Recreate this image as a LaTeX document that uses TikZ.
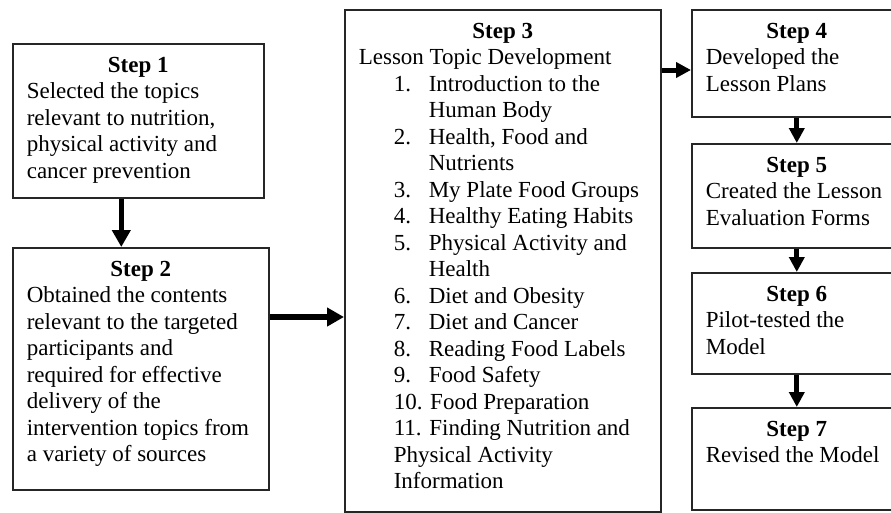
\documentclass[tikz,border=0pt]{standalone}
\usepackage{fontspec}
\setmainfont{Liberation Serif}
\usetikzlibrary{arrows.meta}

\newcommand{\steptxt}[4]{\parbox[t][#2][t]{#1}{\centering\textbf{#3}\par\raggedright #4}}
\newcommand{\topicno}[1]{\hspace*{35pt}\makebox[35pt][l]{#1}}

\begin{document}
\begin{tikzpicture}[x=1pt,y=-1pt, font=\fontsize{23}{26.5}\selectfont,
    stepbox/.style={draw=black!85, line width=1.6pt, anchor=north west, inner xsep=14pt, inner ysep=13pt},
    flow/.style={draw=black, line width=5.5pt, -{Triangle[length=17pt,width=18pt]}},
    flowsmall/.style={draw=black, line width=5pt, -{Triangle[length=15pt,width=15pt]}}]
  \useasboundingbox (0,0) rectangle (891,512);
  \fill[white] (0,0) rectangle (891,512);

  % left column
  \node[stepbox] (s1) at (12,43) {\steptxt{223pt}{128pt}{Step 1}{Selected the topics\\ relevant to nutrition,\\ physical activity and\\ cancer prevention}};
  \node[stepbox] (s2) at (12,247) {\steptxt{228pt}{216pt}{Step 2}{Obtained the contents\\ relevant to the targeted\\ participants and\\ required for effective\\ delivery of the\\ intervention topics from\\ a variety of sources}};

  % topics
  \node[stepbox] (s3) at (344,9) {\steptxt{288pt}{476pt}{Step 3}{Lesson Topic Development\\
      \topicno{1.}Introduction to the\\ \hspace*{70pt}Human Body\\
      \topicno{2.}Health, Food and\\ \hspace*{70pt}Nutrients\\
      \topicno{3.}My Plate Food Groups\\
      \topicno{4.}Healthy Eating Habits\\
      \topicno{5.}Physical Activity and\\ \hspace*{70pt}Health\\
      \topicno{6.}Diet and Obesity\\
      \topicno{7.}Diet and Cancer\\
      \topicno{8.}Reading Food Labels\\
      \topicno{9.}Food Safety\\
      \hspace*{35pt}10. Food Preparation\\
      \hspace*{35pt}11. Finding Nutrition and\\
      \hspace*{35pt}Physical Activity\\
      \hspace*{35pt}Information}};

  % right column
  \node[stepbox] (s4) at (691,9) {\steptxt{182pt}{81pt}{Step 4}{Developed the\\ Lesson Plans}};
  \node[stepbox] (s5) at (691,143) {\steptxt{182pt}{78pt}{Step 5}{Created the Lesson\\ Evaluation Forms}};
  \node[stepbox] (s6) at (691,272) {\steptxt{182pt}{75pt}{Step 6}{Pilot-tested the\\ Model}};
  \node[stepbox] (s7) at (691,407) {\steptxt{182pt}{76pt}{Step 7}{Revised the Model}};

  \draw[flow] ([xshift=-17pt]s1.south) -- ([xshift=-17pt]s1.south |- s2.north);
  \draw[flow] ([yshift=-70pt]s2.north east) -- ([yshift=-70pt]s2.north east -| s3.west);
  \draw[flowsmall] ([yshift=-61pt]s4.north west -| s3.east) -- ([yshift=-61pt]s4.north west);
  \draw[flowsmall] (s4.south) -- (s5.north);
  \draw[flowsmall] (s5.south) -- (s6.north);
  \draw[flowsmall] (s6.south) -- (s7.north);
\end{tikzpicture}
\end{document}
